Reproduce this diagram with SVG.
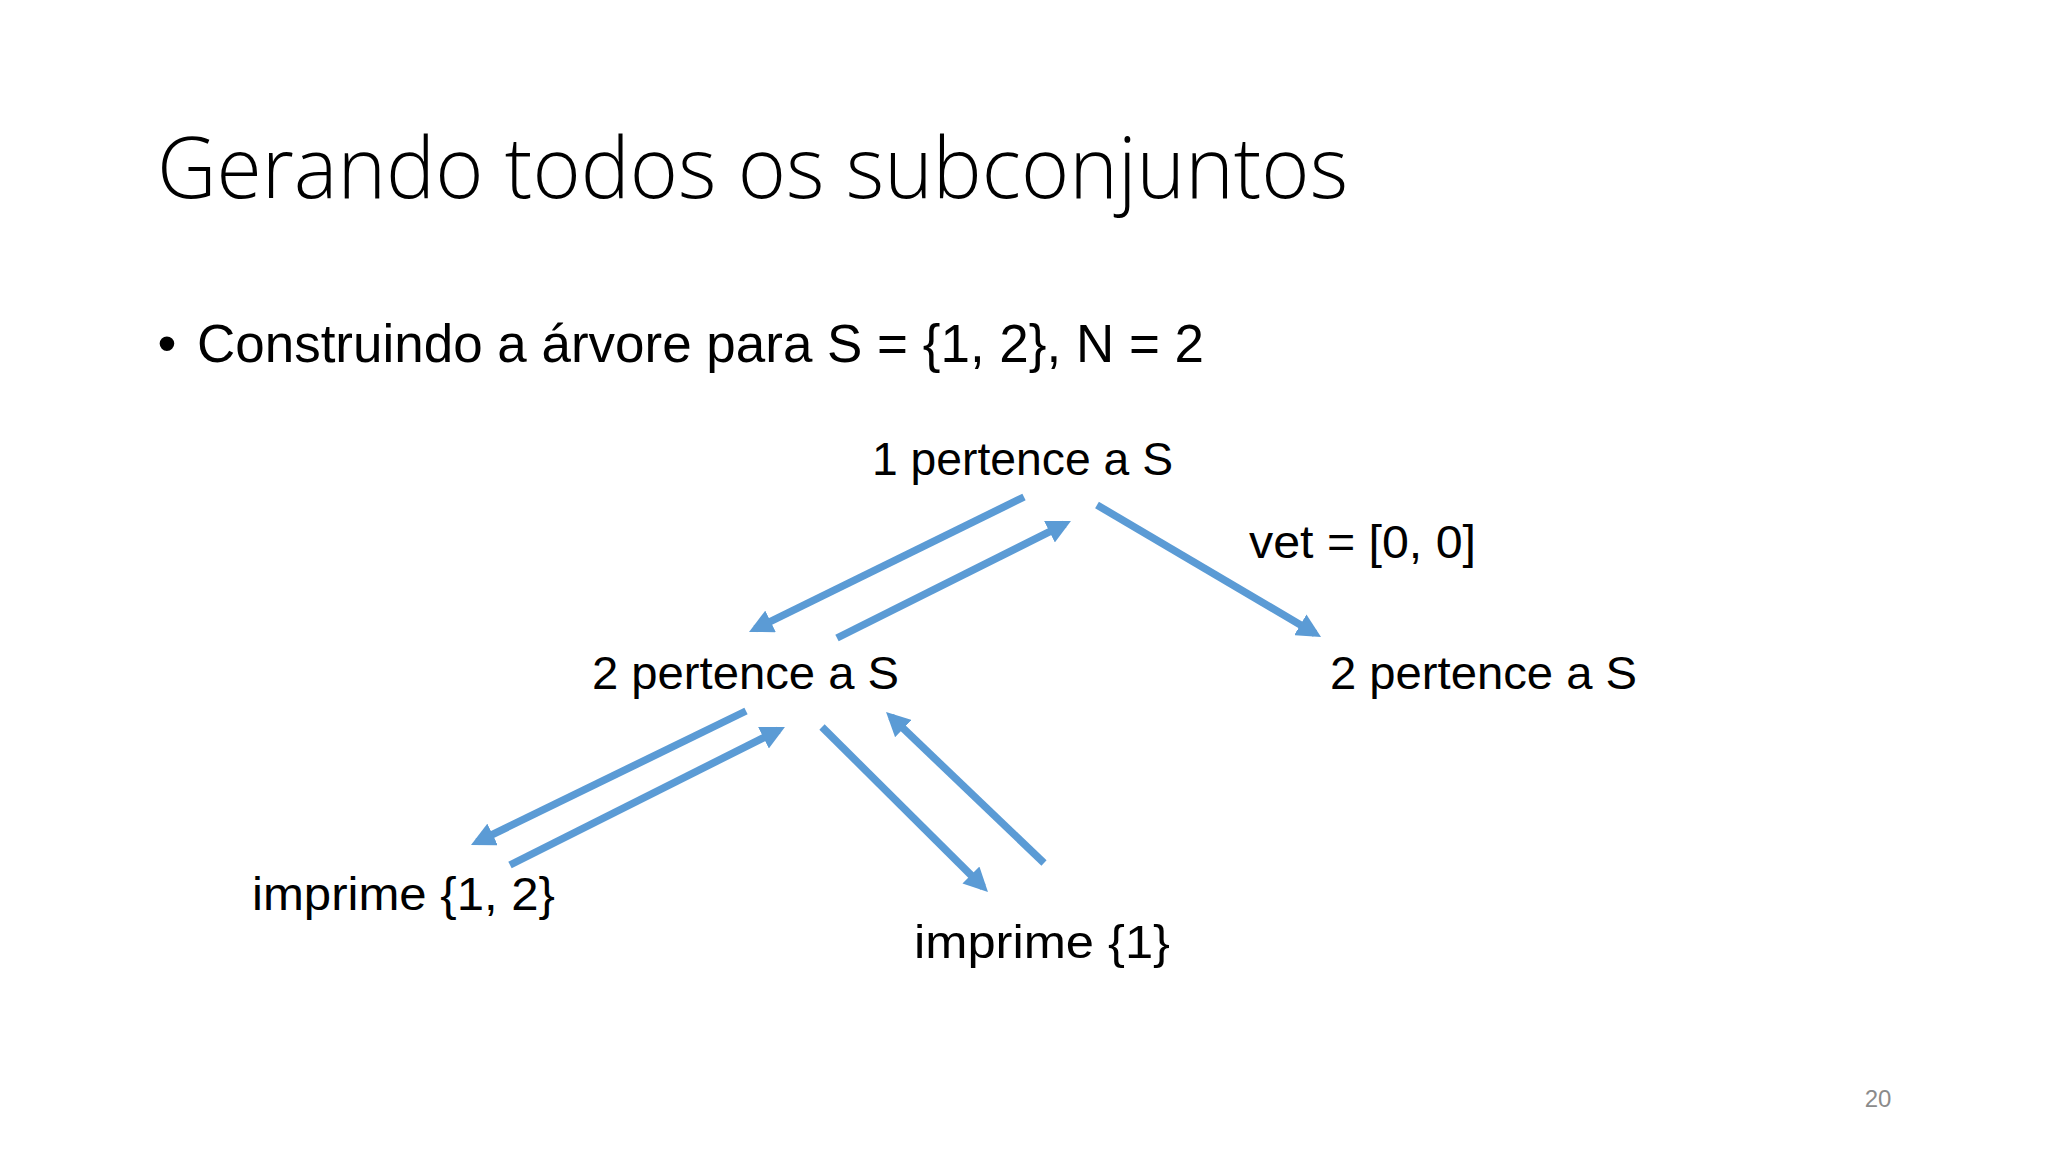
<svg xmlns="http://www.w3.org/2000/svg" width="2048" height="1152" viewBox="0 0 2048 1152">
  <style>
    .title { font-family: "Open Sans", "Liberation Sans", sans-serif; font-weight: 300; font-size: 84px; fill: #000; }
    .body { font-family: "Liberation Sans", Arial, sans-serif; font-size: 54px; fill: #000; }
    .lbl { font-family: "Liberation Sans", Arial, sans-serif; font-size: 46px; fill: #000; }
    .pg { font-family: "Liberation Sans", Arial, sans-serif; font-size: 24px; fill: #8b8b8b; }
    .arr { stroke: #5B9BD5; stroke-width: 7.5; fill: none; marker-end: url(#ah); }
  </style>
  <defs>
    <marker id="ah" markerUnits="userSpaceOnUse" markerWidth="24" markerHeight="24" viewBox="0 0 24 24" refX="17" refY="12" orient="auto">
      <path d="M0,0 L24,12 L0,24 z" fill="#5B9BD5"/>
    </marker>
  </defs>
  <rect width="2048" height="1152" fill="#ffffff"/>

  <g id="title">
    <text class="title" x="157" y="198" textLength="1191" lengthAdjust="spacingAndGlyphs">Gerando todos os subconjuntos</text>
  </g>
  <g id="bullet">
    <text class="body" x="167" y="362" text-anchor="middle" font-size="48">•</text>
    <text class="body" x="197" y="362" textLength="1007" lengthAdjust="spacingAndGlyphs">Construindo a árvore para S = {1, 2}, N = 2</text>
  </g>

  <g id="node-root">
    <text class="lbl" x="872" y="475" textLength="301" lengthAdjust="spacingAndGlyphs">1 pertence a S</text>
  </g>
  <g id="label-vet">
    <text class="lbl" x="1249" y="558" textLength="227" lengthAdjust="spacingAndGlyphs">vet = [0, 0]</text>
  </g>
  <g id="node-left">
    <text class="lbl" x="592" y="689" textLength="307" lengthAdjust="spacingAndGlyphs">2 pertence a S</text>
  </g>
  <g id="node-right">
    <text class="lbl" x="1330" y="689" textLength="307" lengthAdjust="spacingAndGlyphs">2 pertence a S</text>
  </g>
  <g id="node-imprime12">
    <text class="lbl" x="252" y="910" textLength="303" lengthAdjust="spacingAndGlyphs">imprime {1, 2}</text>
  </g>
  <g id="node-imprime1">
    <text class="lbl" x="914" y="958" textLength="256" lengthAdjust="spacingAndGlyphs">imprime {1}</text>
  </g>

  <g id="connectors">
    <line class="arr" x1="1024" y1="497" x2="755.3" y2="628.9"/>
    <line class="arr" x1="837" y1="638" x2="1064.7" y2="524.1"/>
    <line class="arr" x1="1097" y1="505" x2="1315" y2="633.4"/>
    <line class="arr" x1="746" y1="711" x2="477.3" y2="841.9"/>
    <line class="arr" x1="510" y1="865" x2="778.7" y2="730.1"/>
    <line class="arr" x1="822" y1="727" x2="983" y2="887"/>
    <line class="arr" x1="1044" y1="863" x2="891.1" y2="716.8"/>
  </g>

  <g id="page-number">
    <text class="pg" x="1878" y="1107" text-anchor="middle">20</text>
  </g>
</svg>
